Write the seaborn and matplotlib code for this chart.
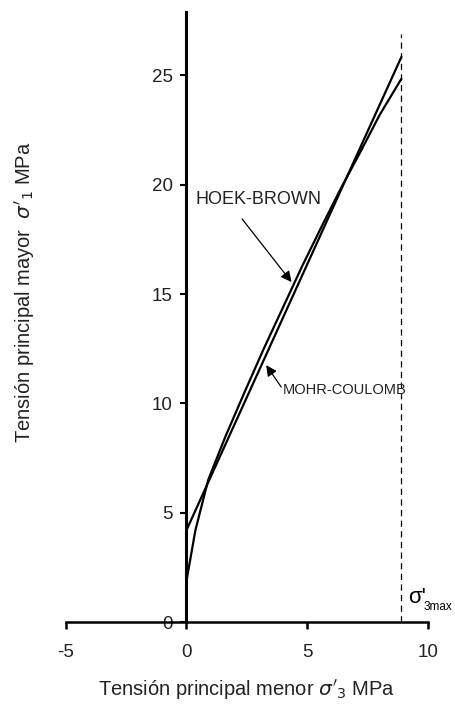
import numpy as np
import pandas as pd
import matplotlib
matplotlib.use("Agg")
import matplotlib.pyplot as plt
import seaborn as sns

# ---- data ----
# Hoek-Brown envelope (sigma'3, sigma'1) in MPa
hb_s3 = [0.0, 0.02, 0.37, 0.9, 1.6, 2.4, 3.2, 4.0, 4.8, 5.6, 6.4, 7.2, 8.0, 8.9]
hb_s1 = [0.0, 2.0, 4.2, 6.5, 8.45, 10.5, 12.5, 14.4, 16.3, 18.1, 19.85, 21.5, 23.2, 24.85]
# Mohr-Coulomb fitted line
mc_s3 = [0.0, 8.9]
mc_s1 = [4.2, 25.85]
# sigma'3max marker
s3max = 8.9
s3max_top = 26.9

xticks = [-5, 0, 5, 10]
yticks = [0, 5, 10, 15, 20, 25]

hb = pd.DataFrame({"s3": hb_s3, "s1": hb_s1})
mc = pd.DataFrame({"s3": mc_s3, "s1": mc_s1})

sns.set_theme(style="white")
plt.rcParams["font.family"] = ["Liberation Sans", "DejaVu Sans"]
plt.rcParams["mathtext.fontset"] = "dejavusans"
plt.rcParams["axes.unicode_minus"] = False

fig = plt.figure(figsize=(4.56, 7.05), dpi=100)
ax = fig.add_axes([0.1441, 0.1177, 0.7945, 0.8652])

sns.lineplot(data=hb, x="s3", y="s1", ax=ax, color="black", lw=1.6,
             sort=False, estimator=None, clip_on=False)
sns.lineplot(data=mc, x="s3", y="s1", ax=ax, color="black", lw=1.6,
             sort=False, estimator=None, clip_on=False)
ax.plot([s3max, s3max], [0, s3max_top], color="black", lw=0.9,
        ls=(0, (5, 3.5)))

ax.set_xlim(-5, 10)
ax.set_ylim(0, 27.9)
ax.set_xticks(xticks)
ax.set_yticks(yticks)

# y axis sits at sigma'3 = 0
ax.spines["left"].set_position(("data", 0))
ax.spines["left"].set_linewidth(2.2)
ax.spines["bottom"].set_linewidth(1.8)
ax.spines["left"].set_color("black")
ax.spines["bottom"].set_color("black")
ax.spines["top"].set_visible(False)
ax.spines["right"].set_visible(False)
ax.tick_params(axis="x", direction="out", length=5, width=1.8, pad=11,
               labelsize=13.5, bottom=True, colors="black")
ax.tick_params(axis="y", direction="out", length=4, width=1.5, pad=6,
               labelsize=13.5, left=True, colors="black")
for t in ax.get_xticklabels() + ax.get_yticklabels():
    t.set_color("#222222")

ax.set_xlabel(r"Tensión principal menor $\sigma'_3$ MPa", fontsize=14.5,
              color="#222222")
ax.set_ylabel(r"Tensión principal mayor  $\sigma'_1$ MPa", fontsize=14.5,
              color="#222222")
ax.xaxis.set_label_coords(0.5, -0.092)
ax.yaxis.set_label_coords(-0.078, 0.541)

# labels with arrows
ax.text(0.37, 19.33, "HOEK-BROWN", fontsize=13, color="#222222",
        va="center", ha="left")
ax.annotate("", xy=(4.35, 15.55), xytext=(2.3, 18.44),
            arrowprops=dict(arrowstyle="-|>", color="black", lw=0.9,
                            mutation_scale=16, shrinkA=0, shrinkB=0))
ax.text(4.0, 10.6, "MOHR-COULOMB", fontsize=10.5, color="#222222",
        va="center", ha="left")
ax.annotate("", xy=(3.3, 11.75), xytext=(3.92, 10.75),
            arrowprops=dict(arrowstyle="-|>", color="black", lw=0.9,
                            mutation_scale=16, shrinkA=0, shrinkB=0))
ax.text(9.17, 1.1, "σ'", fontsize=16, va="center", ha="left", color="black")
ax.text(9.8, 0.7, "3max", fontsize=8.5, va="center", ha="left",
        color="black")

fig.savefig("out.png", dpi=100)
